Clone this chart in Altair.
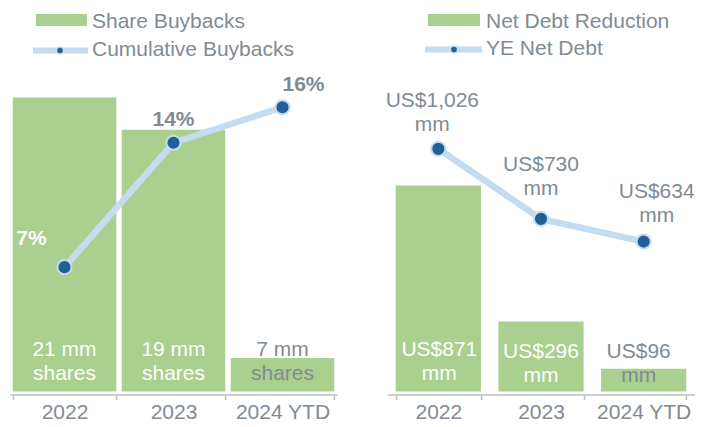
import altair as alt
import pandas as pd

# ---- data ----
years = ["2022", "2023", "2024 YTD"]
share_bar = [21, 18.7, 2.4]          # bar heights as drawn
share_lbl = ["21 mm\nshares", "19 mm\nshares", "7 mm\nshares"]
cum_pct = [7, 14, 16]
cum_lbl = ["7%", "14%", "16%"]
debt_red = [871, 296, 96]
debt_lbl = ["US$871\nmm", "US$296\nmm", "US$96\nmm"]
ye_debt = [1026, 730, 634]
ye_lbl = ["US$1,026\nmm", "US$730\nmm", "US$634\nmm"]
legend_left = ["Share Buybacks", "Cumulative Buybacks"]
legend_right = ["Net Debt Reduction", "YE Net Debt"]

# ---- style ----
FONT = "Liberation Sans"
GRAY = "#7f8b94"
GREEN = "#a9d08e"
LBLUE = "#c5dcf0"
DBLUE = "#215f9a"
FS = 21
H = 350

left_df = pd.DataFrame({"year": years, "bar": share_bar, "bar_lbl": share_lbl,
                        "val": cum_pct, "val_lbl": cum_lbl})
right_df = pd.DataFrame({"year": years, "bar": debt_red, "bar_lbl": debt_lbl,
                         "val": ye_debt, "val_lbl": ye_lbl})


def xenc(pi, po):
    return alt.X("year:N", sort=years, title=None,
                 scale=alt.Scale(paddingInner=pi, paddingOuter=po),
                 axis=alt.Axis(labelAngle=0, tickBand="extent", domainColor="#c0c0c0",
                               domainWidth=1.5, tickColor="#c0c0c0", tickWidth=1.5,
                               tickSize=5, offset=3, labelFont=FONT, labelFontSize=FS,
                               labelColor=GRAY, labelPadding=2, grid=False))


def legend(names, sw_x, txt_x, line_x, dot_x, line_y):
    d1 = alt.Data(values=[{"t": names[0]}])
    d2 = alt.Data(values=[{"t": names[1]}])
    return [
        alt.Chart(d1).mark_rect(color=GREEN).encode(
            x=alt.value(sw_x[0]), x2=alt.value(sw_x[1]), y=alt.value(-27.5), y2=alt.value(-15.5)),
        alt.Chart(d1).mark_text(align="left", baseline="middle", font=FONT, fontSize=FS,
                                color=GRAY).encode(x=alt.value(txt_x), y=alt.value(-20), text="t:N"),
        alt.Chart(d2).mark_rule(color=LBLUE, strokeWidth=6).encode(
            x=alt.value(line_x[0]), x2=alt.value(line_x[1]), y=alt.value(line_y)),
        alt.Chart(d2).mark_circle(color=DBLUE, size=50, stroke=LBLUE, strokeWidth=1.5,
                                  opacity=1).encode(x=alt.value(dot_x), y=alt.value(line_y)),
        alt.Chart(d2).mark_text(align="left", baseline="middle", font=FONT, fontSize=FS,
                                color=GRAY).encode(x=alt.value(txt_x), y=alt.value(line_y - 1),
                                                   text="t:N"),
    ]


def row_texts(base, x, y, field, offsets, **kw):
    out = []
    for yr, dx, dy, col in offsets:
        out.append(base.transform_filter(alt.datum.year == yr).mark_text(
            font=FONT, fontSize=FS, color=col, baseline="middle", lineBreak="\n",
            lineHeight=24, dx=dx, dy=dy, **kw).encode(x=x, y=y, text=f"{field}:N"))
    return out


def panel(df, width, pi, po, bar_dom, line_dom, bar_offsets, line_offsets, bold, leg):
    x = xenc(pi, po)
    base = alt.Chart(df)
    yb = alt.Y("bar:Q", scale=alt.Scale(domain=bar_dom), axis=None)
    bars = base.mark_bar(color=GREEN).encode(x=x, y=yb)
    yz = alt.Y("zero:Q", scale=alt.Scale(domain=bar_dom), axis=None)
    zbase = base.transform_calculate(zero="0")
    bar_txt = row_texts(zbase, x, yz, "bar_lbl", bar_offsets)
    yl = alt.Y("val:Q", scale=alt.Scale(domain=line_dom), axis=None)
    line = base.mark_line(color=LBLUE, strokeWidth=6.5).encode(x=x, y=yl)
    pts = base.mark_circle(color=DBLUE, size=200, stroke=LBLUE, strokeWidth=2,
                           opacity=1).encode(x=x, y=yl)
    kw = {"fontWeight": "bold"} if bold else {}
    line_txt = row_texts(base, x, yl, "val_lbl", line_offsets, **kw)
    layers = [bars] + bar_txt + [line, pts] + line_txt + leg
    return alt.layer(*layers).resolve_scale(y="independent").properties(width=width, height=H)


left = panel(
    left_df, 327, 0.05, 0.025, [0, 25], [0, 19.7],
    [("2022", 0, -42, "white"), ("2023", 0, -42, "white"), ("2024 YTD", 0, -42, GRAY)],
    [("2022", -33, -28, "white"), ("2023", 0, -23, GRAY), ("2024 YTD", 21, -22, GRAY)],
    True, legend(legend_left, (26, 77), 82, (23, 78), 50, 9))
right = panel(
    right_df, 308, 0.17, 0.085, [0, 1480], [0, 1480],
    [("2022", 1, -42, "white"), ("2023", 0, -40, "white"), ("2024 YTD", -5, -40, GRAY)],
    [("2022", -6, -48, GRAY), ("2023", 0, -54, GRAY), ("2024 YTD", 13, -50, GRAY)],
    False, legend(legend_right, (41, 93), 99, (38, 95), 67, 8))

chart = alt.hconcat(left, right, spacing=50, bounds="flush").properties(
    padding={"left": 2, "top": 2.5, "right": 0, "bottom": 5}
).configure_view(stroke=None)

chart.save("out.html", embed_options={"renderer": "svg", "actions": False})
